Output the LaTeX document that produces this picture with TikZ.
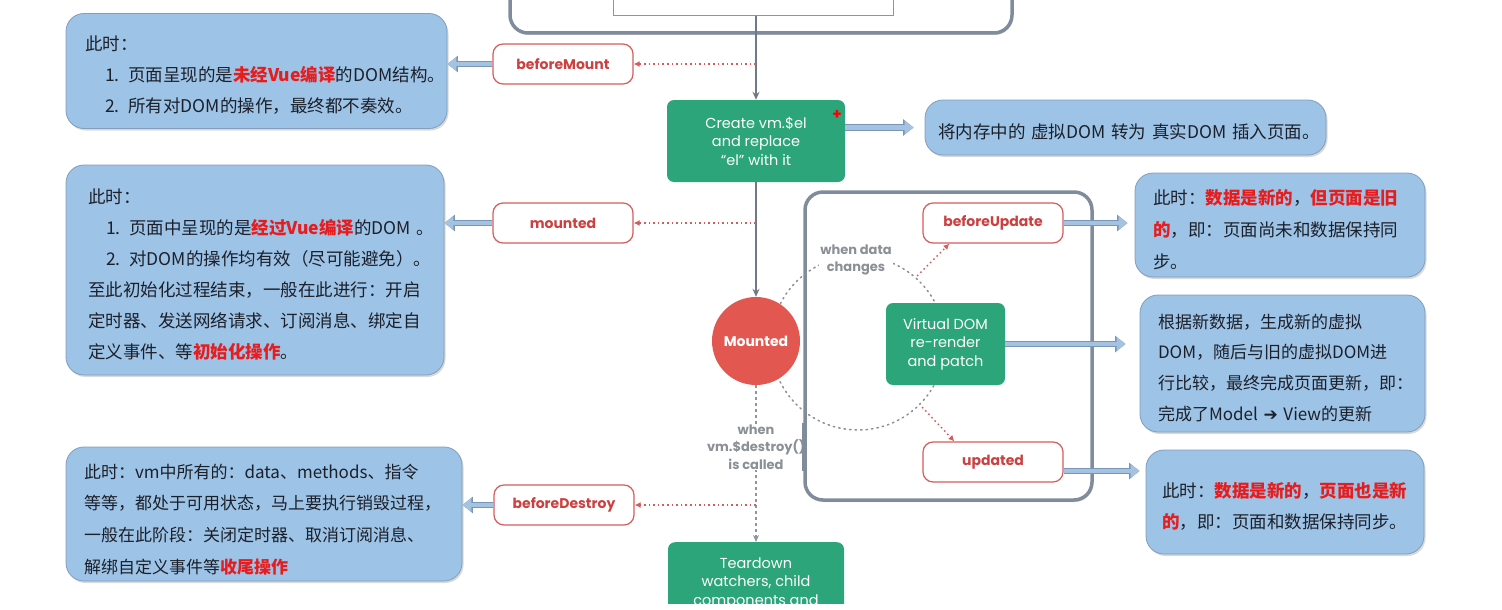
\documentclass[tikz,border=0pt]{standalone}
\usepackage{fontspec}
\newfontfamily\cjk{Noto Sans CJK SC}
\newfontfamily\lat{Poppins}
\newfontfamily\sym{DejaVu Sans}
\usetikzlibrary{arrows.meta,shadows,calc}
\definecolor{boxblue}{RGB}{157,195,230}
\definecolor{boxedge}{RGB}{128,158,190}
\definecolor{txtdark}{RGB}{28,32,42}
\definecolor{emred}{RGB}{232,28,28}
\definecolor{hookred}{RGB}{204,64,64}
\definecolor{hookedge}{RGB}{214,92,92}
\definecolor{stagegreen}{RGB}{44,165,122}
\definecolor{mountred}{RGB}{226,88,80}
\definecolor{linegray}{RGB}{112,122,134}
\definecolor{labelgray}{RGB}{138,144,150}
\definecolor{framegray}{RGB}{128,140,156}
\definecolor{arrowfill}{RGB}{165,195,225}
\definecolor{arrowedge}{RGB}{120,150,185}
\newcommand\redbf[1]{\textcolor{emred}{\bfseries #1}}
\tikzset{
  infobox/.style={draw=boxedge, line width=0.8pt, fill=boxblue, rounded corners=18pt,
    drop shadow={shadow xshift=1.5pt, shadow yshift=-2pt, opacity=0.25, fill=black!60},
    inner sep=0pt, align=left, text=txtdark, font=\cjk\fontsize{17.5}{31}\selectfont,
    execute at begin node={\rule{0pt}{23pt}}},
  hookbox/.style={draw=hookedge, line width=1.2pt, fill=white, rounded corners=10pt,
    minimum width=140pt, minimum height=40pt, inner sep=0pt, text=hookred,
    font=\lat\bfseries\fontsize{14}{16}\selectfont},
  stagebox/.style={fill=stagegreen, rounded corners=7pt, text=white, align=center, inner sep=0pt,
    font=\lat\fontsize{14.5}{18.5}\selectfont},
  panelbox/.style={draw=framegray, line width=3.5pt, fill=white, rounded corners=18pt,
    drop shadow={shadow xshift=1pt, shadow yshift=-2pt, opacity=0.3}},
  flowline/.style={draw=linegray, line width=1.3pt, -{Stealth[length=8pt,width=7pt]}},
  hookline/.style={draw=hookedge, line width=1.4pt, dash pattern=on 1.6pt off 3pt, -{Latex[length=6pt,width=6pt]}},
  destroyline/.style={draw=linegray!80, line width=1.2pt, dash pattern=on 3pt off 3pt, -{Stealth[length=7pt,width=6pt]}},
  fatarrow/.style={draw=arrowfill, line width=4.5pt, -{Triangle[length=9pt,width=13pt]},
     preaction={draw=arrowedge, line width=6.5pt, -{Triangle[length=10.5pt,width=16pt]}}},
  loopcircle/.style={draw=labelgray, line width=1.5pt, dash pattern=on 1.5pt off 4pt, line cap=round},
  notelabel/.style={fill=white, inner sep=1pt, text=labelgray, align=center, font=\lat\bfseries\fontsize{13}{17.5}\selectfont},
}
\begin{document}
\begin{tikzpicture}[x=1pt,y=-1pt]
\useasboundingbox (0,0) rectangle (1502,610);
\clip (0,0) rectangle (1502,610);

% previous stage (cut off at top)
\node[panelbox, minimum width=502pt, minimum height=90pt] (top) at (761,-12) {};
\node[draw=linegray!80, line width=1pt, fill=white, minimum width=280pt, minimum height=50pt, inner sep=0pt] (prev) at (753,-9) {};

% update loop panel
\node[panelbox, minimum width=287pt, minimum height=308pt] (loop) at (948.5,346) {};
\draw[loopcircle] (858,343) circle[radius=87pt];

% info boxes left
\node[infobox, minimum width=381pt, minimum height=115pt, text width=343pt] (i1) at (256.5,71) {%
\mbox{此时：}\\
\mbox{\hspace*{20pt}1. 页面呈现的是\redbf{未经Vue编译}的DOM结构。}\\
\mbox{\hspace*{20pt}2. 所有对DOM的操作，最终都不奏效。}};

\node[infobox, minimum width=378pt, minimum height=210pt, text width=334pt] (i2) at (255,270) {%
\mbox{此时：}\\
\mbox{\hspace*{18pt}1. 页面中呈现的是\redbf{经过Vue编译}的DOM 。}\\
\mbox{\hspace*{18pt}2. 对DOM的操作均有效（尽可能避免）。}\\
\mbox{至此初始化过程结束，一般在此进行：开启}\\
\mbox{定时器、发送网络请求、订阅消息、绑定自}\\
\mbox{定义事件、等\redbf{初始化操作}。}};

\node[infobox, minimum width=396pt, minimum height=134pt, text width=360pt, font=\cjk\fontsize{17}{31.7}\selectfont, execute at begin node={\rule{0pt}{25pt}}] (i3) at (264,514) {%
\mbox{此时：vm中所有的：data、methods、指令}\\
\mbox{等等，都处于可用状态，马上要执行销毁过程，}\\
\mbox{一般在此阶段：关闭定时器、取消订阅消息、}\\
\mbox{解绑自定义事件等\redbf{收尾操作}}};

% info boxes right
\node[infobox, minimum width=401pt, minimum height=55pt, text width=375pt, execute at begin node={}] (i0) at (1125.5,127.5) {%
\mbox{将内存中的 虚拟DOM 转为 真实DOM 插入页面。}};

\node[infobox, minimum width=290pt, minimum height=104pt, text width=254pt, font=\cjk\fontsize{17.5}{32}\selectfont, execute at begin node={\rule{0pt}{25pt}}] (r1) at (1280,225) {%
\mbox{此时：\redbf{数据是新的}，\redbf{但页面是旧}}\\
\mbox{\redbf{的}，即：页面尚未和数据保持同}\\
\mbox{步。}};

\node[infobox, minimum width=285pt, minimum height=137pt, text width=249pt, font=\cjk\fontsize{17}{30.7}\selectfont] (r2) at (1282.5,363.5) {%
\mbox{根据新数据，生成新的虚拟}\\
\mbox{DOM，随后与旧的虚拟DOM进}\\
\mbox{行比较，最终完成页面更新，即：}\\
\mbox{完成了Model {\sym\bfseries ➔} View的更新}};

\node[infobox, minimum width=278pt, minimum height=104pt, text width=246pt, font=\cjk\fontsize{17.5}{31}\selectfont] (r3) at (1285,502) {%
\mbox{此时：\redbf{数据是新的}，\redbf{页面也是新}}\\
\mbox{\redbf{的}，即：页面和数据保持同步。}};

% hooks
\node[hookbox] (bm) at (563,64) {beforeMount};
\node[hookbox] (mt) at (563,223) {mounted};
\node[hookbox] (bd) at (564,505) {beforeDestroy};
\node[hookbox] (bu) at (993,223) {beforeUpdate};
\node[hookbox] (ud) at (993,462) {updated};

% stages
\node[stagebox, minimum width=178pt, minimum height=82pt] (create) at (756,141) {Create vm.\$el\\and replace\\“el” with it};
\node[text=red, inner sep=0pt, font=\lat\bfseries\fontsize{15}{15}\selectfont] (plus) at (837,115) {+};
\node[stagebox, minimum width=119pt, minimum height=82pt] (vd) at (945.5,344) {Virtual DOM\\re-render\\and patch};
\node[circle, fill=mountred, minimum size=88pt, inner sep=0pt, text=white, font=\lat\bfseries\fontsize{14}{16}\selectfont] (mc) at (756,341) {Mounted};
\begin{scope}
\clip (600,530) rectangle (900,603);
\node[stagebox, anchor=north, minimum width=176pt, minimum height=82pt] (td) at (756,542) {Teardown\\watchers, child\\components and};
\end{scope}

% main flow
\coordinate (prevout) at (prev.south -| create.north);
\draw[flowline] (prevout) -- (create.north);
\draw[flowline] (create) -- (mc);
\draw[destroyline] (mc) -- (td);

% hook connectors
\coordinate (jbm) at (create.north |- bm.east);
\coordinate (jmt) at (create.south |- mt.east);
\coordinate (jbd) at (mc.south |- bd.east);
\draw[hookline] (jbm) -- (bm);
\draw[hookline] (jmt) -- (mt);
\draw[hookline] (jbd) -- (bd);
\coordinate (cu) at (917,276);
\coordinate (cd) at (922,407);
\draw[hookline] (cu) -- ([xshift=27pt]bu.south west);
\draw[hookline] (cd) -- ([xshift=32pt]ud.north west);

% info arrows
\draw[fatarrow] (bm) -- (bm.west -| i1.east);
\draw[fatarrow] (mt) -- (mt.west -| i2.east);
\draw[fatarrow] (bd) -- (bd.west -| i3.east);
\draw[fatarrow, shorten >=11pt] (create.east |- i0.west) -- (i0.west);
\draw[fatarrow, shorten >=7pt] (bu) -- (bu.east -| r1.west);
\draw[fatarrow, shorten >=14pt] (vd.east) -- (vd.east -| r2.west);
\draw[fatarrow, shorten >=6pt] ([yshift=-9pt]ud.east) -- ([yshift=-9pt]ud.east -| r3.west);

% labels
\node[notelabel] (wdc) at (856,260) {when data\\changes};
\node[notelabel, inner xsep=0pt] (wvd) at (756,447) {when\\vm.\$destroy()\\is called};
\draw[draw=framegray, line width=3.5pt] (loop.west |- wvd.north) -- (loop.west |- wvd.south);
\end{tikzpicture}
\end{document}
